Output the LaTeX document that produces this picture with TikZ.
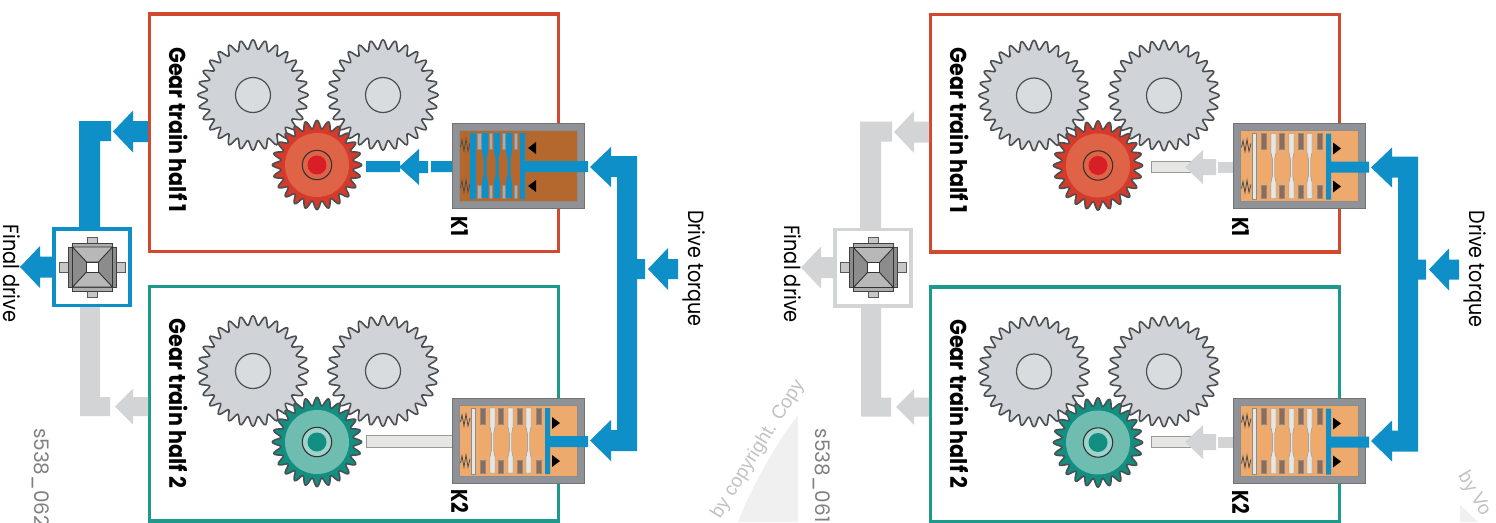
\documentclass[tikz,border=0pt]{standalone}
\usepackage{fontspec}
\setmainfont{Poppins}
\newfontfamily\wmfont{Liberation Sans}
\usepackage{graphicx}
\definecolor{flow}{HTML}{0F8FC7}
\definecolor{idle}{HTML}{D3D4D5}
\definecolor{redbox}{HTML}{D14A30}
\definecolor{greenbox}{HTML}{1C9A8C}
\definecolor{gearfill}{HTML}{D0D3D7}
\definecolor{gearline}{HTML}{4C4F52}
\definecolor{framegrey}{HTML}{8F9296}
\definecolor{tan}{HTML}{EDAA6C}
\definecolor{rust}{HTML}{B5682E}
\definecolor{darkdisc}{HTML}{8C6C58}
\definecolor{lightdisc}{HTML}{E6E6E4}
\definecolor{wm}{HTML}{C2C2C2}
\definecolor{redtooth}{HTML}{D63A2A}
\definecolor{reddisc}{HTML}{DF6347}
\definecolor{reddot}{HTML}{D81E26}
\definecolor{greentooth}{HTML}{128F80}
\definecolor{greendisc}{HTML}{6FBCB0}
\definecolor{greenring}{HTML}{9FD3CB}
\tikzset{
  trainbox/.style={line width=3.6pt,fill=none},
  sidetext/.style={rotate=-90,inner sep=0pt,text=black,font=\fontsize{22}{26}\selectfont},
  boldtext/.style={rotate=-90,inner sep=0pt,text=black,font=\fontsize{23}{27}\selectfont\bfseries},
  figtext/.style={rotate=-90,inner sep=0pt,anchor=west,text=black!50,font=\fontsize{20}{24}\selectfont},
  wmtext/.style={inner sep=0pt,text=wm,font=\wmfont\fontsize{19}{23}\selectfont},
}
% left pointing arrow: tipx basex endx cy headhalf shafthalf colour
\newcommand{\harrow}[7]{\fill[#7] (#1,#4) -- (#2,#4-#5) -- (#2,#4-#6) -- (#3,#4-#6) -- (#3,#4+#6) -- (#2,#4+#6) -- (#2,#4+#5) -- cycle;}
% gear: cx cy r a n fill
\newcommand{\geartrace}[6]{\draw[draw=gearline,line width=1.6pt,fill=#6,line join=round] plot[domain=0:360,samples=241,variable=\t] ({#1+(#3+#4*cos(#5*\t))*cos(\t)},{#2+(#3+#4*cos(#5*\t))*sin(\t)}) -- cycle;}
\newcommand{\biggear}[2]{\geartrace{#1}{#2}{50.5}{4.8}{28}{gearfill}
  \draw[gearline,line width=1.2pt,fill=gearfill!80!white] (#1,#2) circle[radius=17.5];}
% cx cy tooth disc ringfill dot
\newcommand{\smallgear}[6]{\geartrace{#1}{#2}{40.5}{4.2}{24}{#3}
  \fill[#4] (#1,#2) circle[radius=32];
  \draw[black!80,line width=1.1pt,fill=#5] (#1,#2) circle[radius=14.7];
  \fill[#6] (#1,#2) circle[radius=9.5];}
\newcommand{\zig}[1]{\draw[black!70,line width=0.8pt] (8.5,#1+2) -- (10,#1-5) -- (12,#1+6) -- (14,#1-6) -- (16,#1+6) -- (18,#1-2);}
% a disc with a necked bar: x0 x1 fill
\newcommand{\bardisc}[3]{\fill[#3,draw=black!45,line width=0.4pt]
  (#1,10) -- (#2,10) -- (#2,29) -- ({(#1+#2)/2+1.2},35) -- ({(#1+#2)/2+1.2},53) -- (#2,59) -- (#2,75) -- (#1,75) -- (#1,59) -- ({(#1+#2)/2-1.2},53) -- ({(#1+#2)/2-1.2},35) -- (#1,29) -- cycle;}
\newcommand{\bluebar}[2]{\fill[flow]
  (#1,10) -- (#2,10) -- (#2,29) -- ({(#1+#2)/2+1.5},36) -- ({(#1+#2)/2+1.5},52) -- (#2,59) -- (#2,75) -- (#1,75) -- (#1,59) -- ({(#1+#2)/2-1.5},52) -- ({(#1+#2)/2-1.5},36) -- (#1,29) -- cycle;}
\newcommand{\padpair}[3]{\fill[#3,draw=black!45,line width=0.4pt] (#1,10) rectangle (#2,26) (#1,62) rectangle (#2,75);}
\newcommand{\clutchshell}[1]{
  \fill[framegrey,draw=black!55,line width=0.8pt] (0,0) rectangle (132,85);
  \fill[#1,draw=black!45,line width=0.6pt] (7,7) rectangle (125,78);
  \zig{22}\zig{63}}
\newcommand{\clutchidle}{
  \clutchshell{tan}
  \fill[lightdisc,draw=black!45,line width=0.4pt] (19,10) rectangle (23,76);
  \foreach \a/\b in {28/33,46/51,65/70,84/89}{\padpair{\a}{\b}{darkdisc}}
  \foreach \a/\b in {38/43,56/61,74/79}{\bardisc{\a}{\b}{lightdisc}}
  \fill[flow] (93,10) rectangle (98,76) (98,38) rectangle (136,49);
  \fill[black] (100,19) -- (108,25) -- (100,31) -- cycle (100,57) -- (108,63) -- (100,69) -- cycle;}
\newcommand{\clutchactive}{
  \clutchshell{rust}
  \foreach \a/\b in {25/29,37/40,50/53,62/65}{\padpair{\a}{\b}{black!32}}
  \foreach \a/\b in {30/36,42/48,54/60}{\bluebar{\a}{\b}}
  \fill[flow] (18,10) rectangle (24,76) (68,10) rectangle (73,76) (73,38) rectangle (136,49);
  \fill[black] (84,19) -- (76,25) -- (84,31) -- cycle (84,57) -- (76,63) -- (84,69) -- cycle;}
\newcommand{\diffunit}{
  \fill[lightdisc!70!gray,draw=black!65,line width=0.7pt] (-5,-30) rectangle (5,-23) (-5,23) rectangle (5,30) (-33,-5) rectangle (-24,5) (24,-5) rectangle (33,5);
  \fill[black!45,draw=black!75,line width=0.9pt] (-24,-20) rectangle (24,20);
  \fill[black!32,draw=black!75,line width=0.9pt] (-20,-24) rectangle (20,-20) (-20,20) rectangle (20,24);
  \fill[black!28,draw=black!80,line width=0.9pt] (-20,-20) -- (20,-20) -- (6,-5) -- (-6,-5) -- cycle (-20,20) -- (20,20) -- (6,5) -- (-6,5) -- cycle;
  \draw[black!80,line width=0.9pt] (-20,-20) -- (-20,20) (20,-20) -- (20,20);
  \fill[white,draw=black!80,line width=0.9pt] (-6,-5) rectangle (6,5);}
\newcommand{\panel}[1]{% #1 = colour of the final-drive path on top
  \draw[trainbox,redbox] (149.5,14) rectangle (558.5,251.5);
  \draw[trainbox,greenbox] (149.5,286.5) rectangle (558.5,521);
  \fill[idle] (80,300) rectangle (100,416) (80,397) rectangle (110,416);
  \harrow{115}{133}{148}{406.5}{18}{9.5}{idle}
  \fill[#1] (79,121) rectangle (111,141) (79,121) rectangle (100,230);
  \harrow{113}{133}{148}{131.5}{21}{10.5}{#1}
  \harrow{20}{40}{52}{267}{21}{10.5}{#1}
  \draw[#1,line width=3.6pt,fill=white] (53.8,228.8) rectangle (130,305.5);
  \begin{scope}[shift={(92.5,267)}]\diffunit\end{scope}
  \biggear{253}{95}\biggear{383}{95}
  \biggear{253}{371}\biggear{383}{371}
  \smallgear{317}{165}{redtooth}{reddisc}{reddisc}{reddot}
  \smallgear{317}{442}{greentooth}{greendisc}{greenring}{greentooth}
  \fill[flow] (590,167) -- (611,147) -- (611,156) -- (637,156) -- (637,259) -- (645,259) -- (645,279) -- (637,279) -- (637,451) -- (611,451) -- (611,461) -- (590,440.5) -- (611,420) -- (611,430) -- (617,430) -- (617,177) -- (611,177) -- (611,187) -- cycle;
  \harrow{648}{668}{678}{269}{21}{10}{flow}
  \node[boldtext] (gt1) at (178.5,130) {\scalebox{0.9}[1]{Gear train half 1}};
  \node[boldtext] (gt2) at (178.5,403.5) {\scalebox{0.9}[1]{Gear train half 2}};
  \node[boldtext] (k1) at (460,226.5) {\scalebox{0.8}[1]{K1}};
  \node[boldtext] (k2) at (460,501.5) {\scalebox{0.8}[1]{K2}};
  \node[sidetext] (dt) at (694,268.5) {\scalebox{0.87}[1]{Drive torque}};
  \node[sidetext] (fd) at (12,273.5) {\scalebox{0.88}[1]{Final drive}};
}
\newcommand{\idleoutput}{
  \fill[lightdisc,draw=black!40,line width=0.7pt] (-82,38) rectangle (-43,49);
  \harrow{-48}{-30}{-17}{43.5}{17}{8}{idle}
  \fill[idle] (-15,38) rectangle (20,49);
}
\begin{document}
\begin{tikzpicture}[x=1pt,y=-1pt]
\useasboundingbox (0,0) rectangle (1496,522);
\fill[white] (0,0) rectangle (1496,522);
\fill[black!6] (798,415) .. controls (775,445) and (750,490) .. (738,522) -- (798,522) -- cycle;
\fill[black!6] (1460,505) -- (1478,522) -- (1460,522) -- cycle;
\node[wmtext,rotate=58] (wm1) at (758,449) {by copyright. Copy};
\node[wmtext,rotate=-60] (wm2) at (1474,494) {by Vo};
\panel{flow}
\node[figtext] (id1) at (41,428) {s538\_062};
\begin{scope}[shift={(452,123)}]
  \fill[flow] (-86,38) rectangle (-52,49) (-21,38) rectangle (20,49);
  \harrow{-53}{-33}{-24}{44}{18}{6}{flow}
  \clutchactive
\end{scope}
\begin{scope}[shift={(452,398)}]
  \fill[lightdisc,draw=black!40,line width=0.7pt] (-86,37) rectangle (20,49);
  \clutchidle
\end{scope}
\begin{scope}[shift={(781,0.5)}]
  \panel{idle}
  \node[figtext] (id2) at (41,428) {s538\_061};
  \begin{scope}[shift={(452,123)}]\idleoutput\clutchidle\end{scope}
  \begin{scope}[shift={(452,398)}]\idleoutput\clutchidle\end{scope}
\end{scope}
\end{tikzpicture}
\end{document}
